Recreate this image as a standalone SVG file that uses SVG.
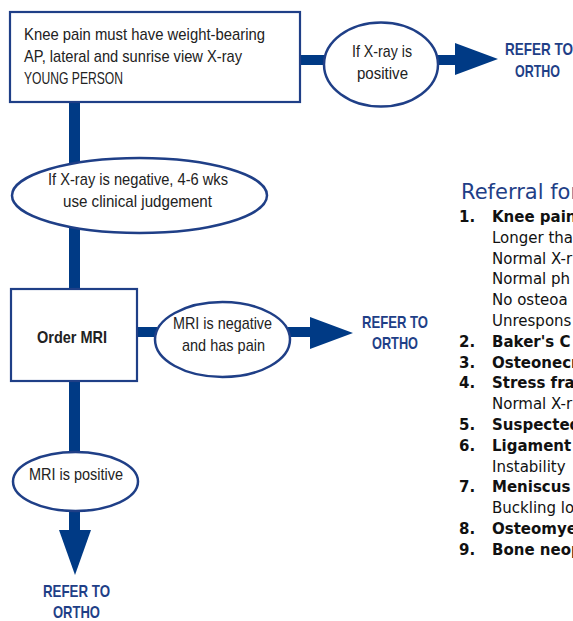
<svg xmlns="http://www.w3.org/2000/svg" width="573" height="621" viewBox="0 0 573 621">
<style>
.box{fill:#fff;stroke:#1f3f87;stroke-width:2.2}
.ell{fill:#fff;stroke:#1f3f87;stroke-width:2.5}
.bar{fill:#003a85}
.t{font-family:"Liberation Sans",Arial,sans-serif;font-size:17px;fill:#222}
.tb{font-family:"Liberation Sans",Arial,sans-serif;font-size:17px;font-weight:bold;fill:#222}
.ref{font-family:"Liberation Sans",Arial,sans-serif;font-size:17px;font-weight:bold;fill:#1f3f87}
.h{font-family:"DejaVu Sans",Verdana,sans-serif;font-size:21px;fill:#1f3f87}
.l{font-family:"DejaVu Sans",Verdana,sans-serif;font-size:15px;fill:#111}
.lb{font-family:"DejaVu Sans",Verdana,sans-serif;font-size:15px;font-weight:bold;fill:#111}
</style>
<g id="connectors">
<rect class="bar" x="69" y="100" width="11" height="432"/>
<polygon class="bar" points="59,530 91,530 75,575"/>
<rect class="bar" x="299" y="55" width="27" height="10"/>
<rect class="bar" x="436" y="55" width="21" height="10"/>
<polygon class="bar" points="455,43 455,75 498,59"/>
<rect class="bar" x="136" y="327" width="21" height="10"/>
<rect class="bar" x="288" y="327" width="24" height="10"/>
<polygon class="bar" points="310,317 310,349 353,333"/>
</g>
<g id="start">
<rect class="box" x="10" y="12" width="290" height="90"/>
<text class="t" x="24" y="40" textLength="241" lengthAdjust="spacingAndGlyphs">Knee pain must have weight-bearing</text>
<text class="t" x="24" y="62" textLength="218" lengthAdjust="spacingAndGlyphs">AP, lateral and sunrise view X-ray</text>
<text class="t" x="24" y="84" textLength="99" lengthAdjust="spacingAndGlyphs">YOUNG PERSON</text>
</g>
<g id="xray-positive">
<ellipse class="ell" cx="381" cy="64.5" rx="57" ry="42"/>
<text class="t" x="352" y="57" textLength="60" lengthAdjust="spacingAndGlyphs">If X-ray is</text>
<text class="t" x="357" y="79" textLength="51" lengthAdjust="spacingAndGlyphs">positive</text>
</g>
<g id="refer1">
<text class="ref" x="505" y="55" textLength="68" lengthAdjust="spacingAndGlyphs">REFER TO</text>
<text class="ref" x="515" y="77" textLength="45" lengthAdjust="spacingAndGlyphs">ORTHO</text>
</g>
<g id="xray-negative">
<ellipse class="ell" cx="139.5" cy="195.5" rx="127.5" ry="37.5"/>
<text class="t" x="48" y="185" textLength="180" lengthAdjust="spacingAndGlyphs">If X-ray is negative, 4-6 wks</text>
<text class="t" x="63" y="207" textLength="149" lengthAdjust="spacingAndGlyphs">use clinical judgement</text>
</g>
<g id="order-mri">
<rect class="box" x="11" y="289" width="126" height="92"/>
<text class="tb" x="37" y="343" textLength="70" lengthAdjust="spacingAndGlyphs">Order MRI</text>
</g>
<g id="mri-negative">
<ellipse class="ell" cx="222.5" cy="339.5" rx="67.5" ry="37.5"/>
<text class="t" x="173" y="329" textLength="99" lengthAdjust="spacingAndGlyphs">MRI is negative</text>
<text class="t" x="182" y="351" textLength="83" lengthAdjust="spacingAndGlyphs">and has pain</text>
</g>
<g id="refer2">
<text class="ref" x="362" y="328" textLength="66" lengthAdjust="spacingAndGlyphs">REFER TO</text>
<text class="ref" x="372" y="349" textLength="46" lengthAdjust="spacingAndGlyphs">ORTHO</text>
</g>
<g id="mri-positive">
<ellipse class="ell" cx="75.5" cy="481.5" rx="62.5" ry="29.5"/>
<text class="t" x="29" y="480" textLength="94" lengthAdjust="spacingAndGlyphs">MRI is positive</text>
</g>
<g id="refer3">
<text class="ref" x="43" y="597" textLength="67" lengthAdjust="spacingAndGlyphs">REFER TO</text>
<text class="ref" x="53" y="618" textLength="47" lengthAdjust="spacingAndGlyphs">ORTHO</text>
</g>
<g id="referral-list">
<text class="h" x="461" y="199">Referral for</text>
<text class="lb" x="459" y="222">1.</text><text class="lb" x="492" y="222">Knee pain</text>
<text class="l" x="492" y="242.8">Longer tha</text>
<text class="l" x="492" y="263.6">Normal X-r</text>
<text class="l" x="492" y="284.4">Normal ph</text>
<text class="l" x="492" y="305.2">No osteoa</text>
<text class="l" x="492" y="326">Unrespons</text>
<text class="lb" x="459" y="346.8">2.</text><text class="lb" x="492" y="346.8">Baker's C</text>
<text class="lb" x="459" y="367.6">3.</text><text class="lb" x="492" y="367.6">Osteonecr</text>
<text class="lb" x="459" y="388.4">4.</text><text class="lb" x="492" y="388.4">Stress fra</text>
<text class="l" x="492" y="409.2">Normal X-r</text>
<text class="lb" x="459" y="430">5.</text><text class="lb" x="492" y="430">Suspected</text>
<text class="lb" x="459" y="450.8">6.</text><text class="lb" x="492" y="450.8">Ligament</text>
<text class="l" x="492" y="471.6">Instability</text>
<text class="lb" x="459" y="492.4">7.</text><text class="lb" x="492" y="492.4">Meniscus</text>
<text class="l" x="492" y="513.2">Buckling lo</text>
<text class="lb" x="459" y="534">8.</text><text class="lb" x="492" y="534">Osteomye</text>
<text class="lb" x="459" y="554.8">9.</text><text class="lb" x="492" y="554.8">Bone neop</text>
</g>
</svg>
